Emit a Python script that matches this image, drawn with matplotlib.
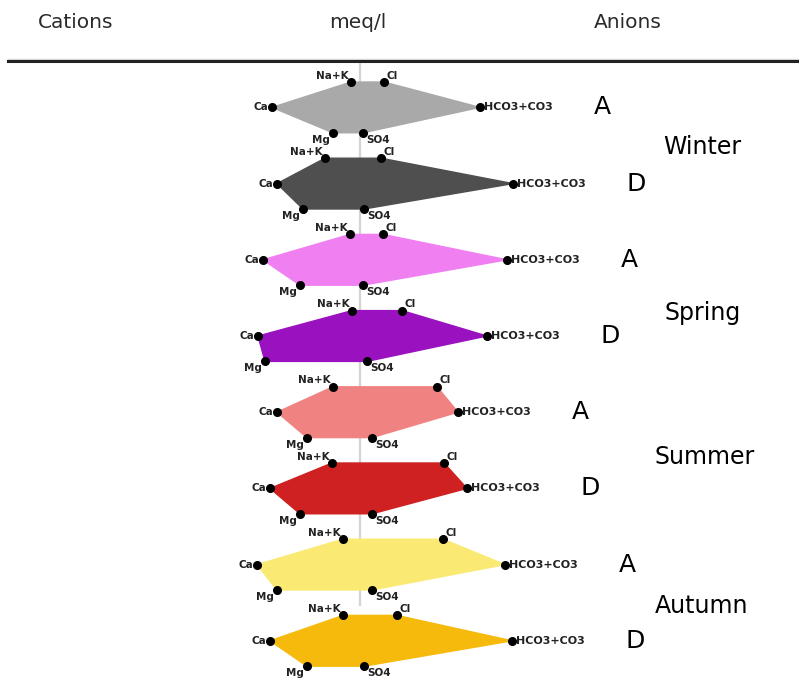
import matplotlib.pyplot as plt
import numpy as np

# Stiff diagram, meq/l (cations to the left, anions to the right)
seasons = ['Winter', 'Spring', 'Summer', 'Autumn']
kinds = ['A', 'D', 'A', 'D', 'A', 'D', 'A', 'D']

na_k = [0.45, 1.75, 0.50, 0.40, 1.35, 1.40, 0.85, 0.85]
ca = [4.40, 4.15, 4.85, 5.10, 4.15, 4.50, 5.15, 4.50]
mg = [1.35, 2.85, 3.00, 4.75, 2.65, 3.00, 4.15, 2.65]
cl = [1.20, 1.05, 1.15, 2.10, 3.85, 4.20, 4.15, 1.85]
hco3 = [6.00, 7.65, 7.35, 6.35, 4.90, 5.35, 7.25, 7.60]
so4 = [0.15, 0.20, 0.15, 0.35, 0.60, 0.60, 0.60, 0.20]

colores = ['#a9a9a9', '#4f4f4f', '#f080f2', '#9a12c0',
           '#f08282', '#cf2121', '#faea74', '#f6ba0c']

W, H = 799, 683
fig = plt.figure(figsize=(W / 100, H / 100), dpi=100)
ax = fig.add_axes([0, 0, 1, 1])

# escala: 20 px por meq/l, centro en x=360 px; 25.4 px por nivel
ax.set_xlim(-360 / 20, (W - 360) / 20)
ax.set_ylim((H - 82) / 25.4, -82 / 25.4)
ax.axis('off')

def px(x, y):
    return x / W, 1 - y / H

# encabezado
fig.text(*px(38, 23), 'Cations', fontsize=14.5, color='#2a2a2a', va='center', ha='left')
fig.text(*px(358, 23), 'meq/l', fontsize=14.5, color='#2a2a2a', va='center', ha='center')
fig.text(*px(594, 23), 'Anions', fontsize=14.5, color='#2a2a2a', va='center', ha='left')
fig.add_artist(plt.Line2D([8 / W, 1], [1 - 59 / H] * 2, color='#d8d8d8', lw=1.0))
fig.add_artist(plt.Line2D([8 / W, 1], [1 - 61 / H] * 2, color='#222222', lw=2.2))

# linea central
ax.plot([0, 0], [-0.8, 20.6], color='#d4d4d4', lw=1.6, zorder=1)

lbl = dict(fontsize=7.5, fontweight='bold', color='#222222')

for i in range(len(kinds)):
    yt = 3 * i
    ym = yt + 1
    yb = yt + 2
    xs = [-na_k[i], -ca[i], -mg[i], so4[i], hco3[i], cl[i]]
    ys = [yt, ym, yb, yb, ym, yt]
    ax.fill(xs, ys, color=colores[i], ec=colores[i], lw=1.0, zorder=2)
    ax.plot(xs, ys, 'o', color='black', ms=5.5, zorder=3, ls='none')

    ax.annotate('Na+K', (-na_k[i], yt), xytext=(-2, 1), textcoords='offset points',
                ha='right', va='bottom', **lbl)
    ax.annotate('Cl', (cl[i], yt), xytext=(2, 1), textcoords='offset points',
                ha='left', va='bottom', **lbl)
    ax.annotate('Ca', (-ca[i], ym), xytext=(-3, 0), textcoords='offset points',
                ha='right', va='center', **lbl)
    ax.annotate('HCO3+CO3', (hco3[i], ym), xytext=(3, 0), textcoords='offset points',
                ha='left', va='center', fontsize=8, fontweight='bold', color='#222222')
    ax.annotate('Mg', (-mg[i], yb), xytext=(-2, -1.5), textcoords='offset points',
                ha='right', va='top', **lbl)
    ax.annotate('SO4', (so4[i], yb), xytext=(2, -1.5), textcoords='offset points',
                ha='left', va='top', **lbl)
    ax.annotate(kinds[i], (hco3[i], ym), xytext=(82, 0), textcoords='offset points',
                ha='left', va='center', fontsize=18, color='black')

# estaciones
pos_est = [(663, 147), (665, 313), (655, 457), (655, 606)]
for s, (x, y) in zip(seasons, pos_est):
    fig.text(*px(x, y), s, fontsize=17, color='black', ha='left', va='center')

plt.savefig('out.png', dpi=100)
